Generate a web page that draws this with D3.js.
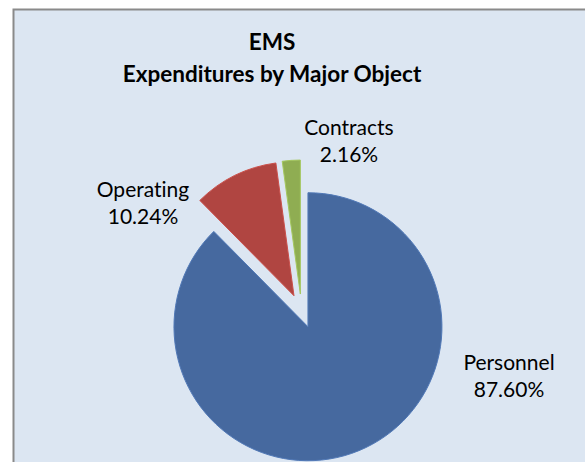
<!DOCTYPE html>
<html>
<head>
<meta charset="utf-8">
<script src="https://cdn.jsdelivr.net/npm/d3@7/dist/d3.min.js"></script>
<style>
  html, body { margin: 0; padding: 0; background: #ffffff; }
  svg { display: block; }
  text { font-variant-ligatures: none; font-feature-settings: "liga" 0, "clig" 0; }
</style>
</head>
<body>
<svg id="chart" width="585" height="462"></svg>
<script>
// Expenditure shares by major object
const categories = ["Personnel", "Operating", "Contracts"];
const shares = [87.60, 10.24, 2.16];
const titleLines = ["EMS", "Expenditures by Major Object"];

const colors = { Personnel: "#46699f", Operating: "#b04541", Contracts: "#8fad52" };
// label anchor (centre of the two-line label block)
const labelPos = {
  Personnel: [509, 376],
  Operating: [143, 203],
  Contracts: [349, 141]
};

const W = 585, H = 462;
const svg = d3.select("#chart");

// chart area background and frame
svg.append("rect")
  .attr("x", 13.5).attr("y", 9.5)
  .attr("width", W + 20).attr("height", H + 20)
  .attr("fill", "#dce6f2")
  .attr("stroke", "#8a8a8a")
  .attr("stroke-width", 2);

// title
const title = svg.append("text")
  .attr("text-anchor", "middle")
  .attr("font-family", "Lato, 'Open Sans', sans-serif")
  .attr("font-weight", "bold")
  .attr("font-size", 22.5)
  .attr("fill", "#000");
title.selectAll("tspan").data(titleLines).join("tspan")
  .attr("x", 272)
  .attr("y", (d, i) => 50 + i * 32)
  .text(d => d);

// pie
const cx = 301.5, cy = 311, radius = 134, explode = 17;
const data = categories.map((c, i) => ({ name: c, value: shares[i] }));
const pie = d3.pie().sort(null).value(d => d.value).startAngle(0).endAngle(2 * Math.PI);
const arc = d3.arc().innerRadius(0).outerRadius(radius);

const g = svg.append("g").attr("transform", `translate(${cx},${cy})`);
g.selectAll("path").data(pie(data)).join("path")
  .attr("transform", d => {
    const a = (d.startAngle + d.endAngle) / 2;
    return `translate(${explode * Math.sin(a)},${-explode * Math.cos(a)})`;
  })
  .attr("d", arc)
  .attr("fill", d => colors[d.data.name])
  .attr("stroke", d => d3.color(colors[d.data.name]).brighter(0.4))
  .attr("stroke-width", 1);

// data labels
const fmt = v => v.toFixed(2) + "%";
const labels = svg.append("g")
  .attr("font-family", "Lato, 'Open Sans', sans-serif")
  .attr("font-size", 21)
  .attr("fill", "#000")
  .attr("text-anchor", "middle");
data.forEach(d => {
  const [lx, ly] = labelPos[d.name];
  const t = labels.append("text");
  t.append("tspan").attr("x", lx).attr("y", ly - 6).text(d.name);
  t.append("tspan").attr("x", lx).attr("y", ly + 21).text(fmt(d.value));
});
</script>
</body>
</html>
